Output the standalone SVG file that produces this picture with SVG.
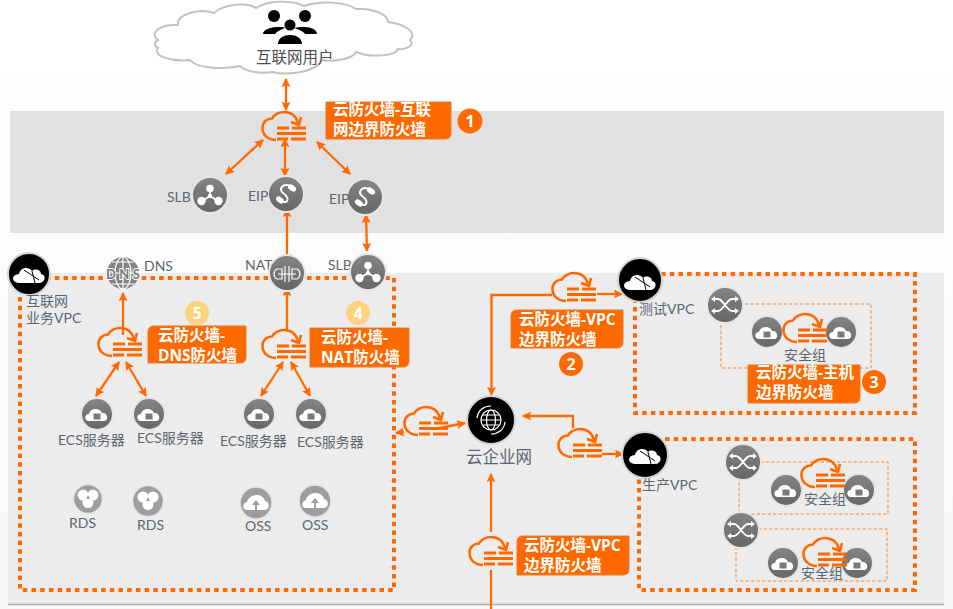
<svg xmlns="http://www.w3.org/2000/svg" width="953" height="609" viewBox="0 0 953 609">
<style>
text{font-family:"Lato","Noto Sans CJK SC",sans-serif;fill:#5c6670;font-size:14px}
.lb{font-family:"Open Sans","Noto Sans CJK SC",sans-serif;font-weight:700;font-size:15.5px;fill:#fff}
.box{fill:#ff6a00;stroke:#e8782a;stroke-width:1}
.num{font-family:"Open Sans",sans-serif;font-weight:700;font-size:16px;fill:#fff;text-anchor:middle}
.c{fill:none;stroke:#ff6a00;stroke-width:2.3}
.ca{marker-end:url(#ah)}
.cb{marker-start:url(#as);marker-end:url(#ah)}
.dot{fill:none;stroke:#ff6a00;stroke-width:4;stroke-dasharray:4.5 4.2}
.dash{fill:none;stroke:#f58a3c;stroke-width:1;stroke-dasharray:3.5 2}
.w{fill:#fff}
.wl{fill:none;stroke:#fff;stroke-width:1.800}
.thin{stroke-width:1.200}
.ring{fill:url(#gr);stroke:#e6e6e6;stroke-width:2}
.ringl{fill:#9e9e9e;stroke:#e4e4e4;stroke-width:1.500}
.ringb{fill:#000;stroke:#d4d4d4;stroke-width:2}
</style>
<defs>
<linearGradient id="bg" x1="0" y1="0" x2="0" y2="1"><stop offset="0" stop-color="#ffffff"/><stop offset="1" stop-color="#f8f8f8"/></linearGradient>
<linearGradient id="gr" x1="0" y1="0" x2="0" y2="1"><stop offset="0" stop-color="#858585"/><stop offset="1" stop-color="#666666"/></linearGradient>
<marker id="ah" markerUnits="userSpaceOnUse" markerWidth="10" markerHeight="10" refX="8" refY="4.500" orient="auto"><path d="M0 0L9 4.500L0 9L1.500 4.500Z" fill="#ff6a00"/></marker>
<marker id="as" markerUnits="userSpaceOnUse" markerWidth="10" markerHeight="10" refX="1" refY="4.500" orient="auto"><path d="M9 0L0 4.500L9 9L7.500 4.500Z" fill="#ff6a00"/></marker>
<g id="fw">
<path d="M14 28C6 28 0.500 23 0.500 16C0.500 10 5 6.500 10 6.500C12 2 18 0 22 0C29 0 34 4 36 11" fill="none" stroke="#ff6a00" stroke-width="2.600"/>
<path d="M29 10L37 13L39 5" fill="none" stroke="#ff6a00" stroke-width="2.600"/>
<path d="M15 16H27M30 16H44M15 21.500H44M15 27H26M29 27H44" fill="none" stroke="#ff6a00" stroke-width="3"/>
</g>
<g id="i-slb"><path class="wl" d="M0 -5V1M-8 6L0 1L8 6"/><circle class="w" cy="-6.500" r="3.800"/><circle class="w" cx="-8.500" cy="6" r="4.200"/><circle class="w" cx="8.500" cy="6" r="4.200"/><circle cx="0" cy="1" r="2.200" class="w"/></g>
<g id="i-eip"><path d="M4 -8C-3 -11 -8 -5 -3 -1C3 3 3 9 -3 8" fill="none" stroke="#fff" stroke-width="2"/><ellipse class="w" cx="6" cy="-6" rx="4.500" ry="2.800" transform="rotate(35 6 -6)"/><ellipse class="w" cx="-6" cy="6" rx="4.500" ry="2.800" transform="rotate(35 -6 6)"/></g>
<g id="i-nat"><path class="wl thin" d="M-5 -5H-10C-14 -3 -14 3 -10 5H-5ZM5 -5H10C14 -3 14 3 10 5H5ZM-2 -8V8M2 -8V8M-9 0H9"/></g>
<g id="i-ecs"><path class="w" d="M-8 6C-13 6 -13 -1 -8 -1C-7 -7 3 -8 5 -2C11 -3 12 6 7 6Z"/><rect x="-3.500" y="-1.500" width="7" height="6" fill="#7a7a7a"/></g>
<g id="i-rds"><circle class="w" cx="-5" cy="-3" r="5.500"/><circle class="w" cx="5" cy="-3" r="5.500"/><circle class="w" cy="4.500" r="5.500"/><path d="M0 -3L-2 1H2Z" fill="#9e9e9e"/></g>
<g id="i-oss"><path class="w" d="M-9 7C-14 7 -14 0 -9 -1C-7 -10 7 -10 9 -2C14 -2 14 7 9 7Z"/><path d="M0 -3L-4 2H-1V7H1V2H4Z" fill="#9e9e9e"/></g>
<g id="i-sw"><path class="wl" d="M-12 -6H-7C-2 -6 2 6 7 6H12M-12 6H-7C-2 6 2 -6 7 -6H12"/><path class="w" d="M10 -9L14 -6L10 -3ZM10 3L14 6L10 9ZM-10 -9L-14 -6L-10 -3ZM-10 3L-14 6L-10 9Z"/></g>
<g id="i-vpc"><path class="w" d="M-10 8C-18 8 -18 -1 -10 -1C-9 -8 0 -9 3 -4C6 -7 12 -5 12 -1C18 0 16 8 10 8Z"/><path d="M-5 -5L10 5M3 -4L6 8" stroke="#000" stroke-width="1" fill="none"/></g>
</defs>
<rect width="953" height="609" fill="url(#bg)"/>
<rect x="10" y="111" width="934" height="122" fill="#e1e1e1"/>
<rect x="8" y="273" width="936" height="331" fill="#ececec"/>
<path d="M8 604.500H944" stroke="#a8a8a8" stroke-width="1.500"/>
<path d="M20 278H394V590H20Z" class="dot"/>
<path d="M635 274H915V413H635Z" class="dot"/>
<path d="M639 439H915V590H639Z" class="dot"/>
<path d="M745 304H871V368H721V323" class="dash"/>
<path d="M760 462H888V514H739V480" class="dash"/>
<path d="M758 529H887V581H736V548" class="dash"/>

<g id="connectors">
<path class="c cb" d="M286 79V110"/>
<path class="c cb" d="M263 140L226 174"/>
<path class="c cb" d="M285 139V176"/>
<path class="c cb" d="M317 142L350 174"/>
<path class="c cb" d="M287 209V262"/>
<path class="c cb" d="M366 215L367 251"/>
<path class="c ca" d="M287 330V288"/>
<path class="c ca" d="M123 335V293"/>
<path class="c cb" d="M119 362L96 396"/>
<path class="c cb" d="M126 362L146 396"/>
<path class="c cb" d="M283 362L261 396"/>
<path class="c cb" d="M291 362L310 396"/>
<path class="c ca" d="M404 432L396 433"/>
<path class="c ca" d="M440 428L465 423"/>
<path class="c ca" d="M552 295H491.500V395"/>
<path class="c ca" d="M597 294L622 294"/>
<path class="c ca" d="M573 428V416H523"/>
<path class="c ca" d="M602 454H623"/>
<path class="c ca" d="M491 532V474"/>
<path class="c" d="M491 570V609"/>
</g>

<g id="internet-users">
<path d="M158 40C148 32 162 24 178 25C176 14 200 8 214 13C224 4 246 2 256 8C268 0 292 0 304 6C320 0 346 2 356 9C372 8 388 14 388 22C404 24 418 32 410 40C416 46 404 50 398 49C396 56 370 58 356 52C352 60 330 62 322 60C316 72 288 76 272 72C262 74 246 72 240 66C222 70 196 68 190 60C172 62 152 56 158 48C154 46 154 42 158 40Z" fill="#fff" stroke="#c2c2c2" stroke-width="2"/>
<g fill="#000">
<circle cx="274" cy="16" r="6"/><circle cx="305" cy="16" r="6"/><circle cx="290" cy="25" r="5.500"/>
<path d="M263 34C263 26 285 26 285 28C280 30 276 32 275 34ZM294 28C300 26 317 26 317 34H305C304 32 300 30 294 28ZM278 44C278 32 302 32 302 44Z"/>
</g>
<text x="256" y="63" style="font-size:15.500px;fill:#4d4d4d">互联网用户</text>
</g>

<g id="fw-internet"><use href="#fw" x="262" y="112"/></g>
<g id="label-internet"><path class="box" d="M326 102H451V133Q451 139 445 139H326Z"/><text class="lb"><tspan x="333" y="115">云防火墙-互联</tspan><tspan x="333" y="135">网边界防火墙</tspan></text><circle cx="470" cy="121" r="12.500" fill="#ff6a00"/><text class="num" x="470" y="127">1</text></g>

<g id="slb-top"><circle class="ring" cx="210" cy="195" r="18"/><use href="#i-slb" x="210" y="195"/><text x="167" y="202">SLB</text></g>
<g id="eip-1"><circle class="ring" cx="286" cy="194" r="18"/><use href="#i-eip" x="286" y="194"/><text x="248" y="201">EIP</text></g>
<g id="eip-2"><circle class="ring" cx="365" cy="197" r="18"/><use href="#i-eip" x="365" y="197"/><text x="329" y="204">EIP</text></g>

<g id="vpc-internet"><circle class="ringb" cx="29" cy="274" r="21"/><use href="#i-vpc" x="29" y="275"/><text><tspan x="26" y="306">互联网</tspan><tspan x="26" y="323">业务VPC</tspan></text></g>
<g id="dns"><circle cx="123" cy="273" r="16" fill="#858585"/><path class="wl thin" d="M107 273H139M123 257V289M112 262H134M112 284H134"/><ellipse cx="123" cy="273" rx="8" ry="16" class="wl thin"/><text x="106" y="279" style="font-size:13px;font-weight:700;fill:#777;stroke:#fff;stroke-width:2;paint-order:stroke" textLength="34">DNS</text><text x="144" y="271">DNS</text></g>
<g id="nat"><text x="245" y="270">NAT</text><circle class="ring" cx="287" cy="273" r="18"/><use href="#i-nat" x="287" y="274"/></g>
<g id="slb-vpc"><text x="328" y="270">SLB</text><circle class="ring" cx="368" cy="272" r="18"/><use href="#i-slb" x="368" y="272"/></g>

<g id="fw-dns"><use href="#fw" x="98" y="328"/></g>
<g id="label-dns"><path class="box" d="M148 332Q148 326 154 326H246V357Q246 363 240 363H148Z"/><text class="lb"><tspan x="158" y="341">云防火墙-</tspan><tspan x="158" y="361">DNS防火墙</tspan></text><circle cx="197" cy="313" r="12" fill="#fcd27e"/><text class="num" x="197" y="319">5</text></g>
<g id="fw-nat"><use href="#fw" x="262" y="330"/></g>
<g id="label-nat"><path class="box" d="M310 328H409V361Q409 367 403 367H310Z"/><text class="lb"><tspan x="321" y="343">云防火墙-</tspan><tspan x="321" y="363">NAT防火墙</tspan></text><circle cx="358" cy="313" r="12" fill="#fcd27e"/><text class="num" x="358" y="319">4</text></g>

<g id="ecs-1"><circle class="ring" cx="97" cy="414" r="16"/><use href="#i-ecs" x="97" y="415"/><text x="58" y="445">ECS服务器</text></g>
<g id="ecs-2"><circle class="ring" cx="149" cy="414" r="16"/><use href="#i-ecs" x="149" y="415"/><text x="137" y="443">ECS服务器</text></g>
<g id="ecs-3"><circle class="ring" cx="259" cy="414" r="16"/><use href="#i-ecs" x="259" y="415"/><text x="220" y="446">ECS服务器</text></g>
<g id="ecs-4"><circle class="ring" cx="311" cy="414" r="16"/><use href="#i-ecs" x="311" y="415"/><text x="297" y="447">ECS服务器</text></g>
<g id="rds-1"><circle class="ringl" cx="88" cy="499" r="14.500"/><use href="#i-rds" x="88" y="498"/><text x="69" y="528">RDS</text></g>
<g id="rds-2"><circle class="ringl" cx="148" cy="501" r="15.500"/><use href="#i-rds" x="148" y="500"/><text x="137" y="530">RDS</text></g>
<g id="oss-1"><circle class="ringl" cx="256" cy="503" r="16"/><use href="#i-oss" x="256" y="503"/><text x="245" y="531">OSS</text></g>
<g id="oss-2"><circle class="ringl" cx="315" cy="501" r="16"/><use href="#i-oss" x="315" y="501"/><text x="302" y="530">OSS</text></g>

<g id="fw-left"><use href="#fw" x="404" y="407"/></g>
<g id="cen"><circle class="ringb" cx="491" cy="420" r="24"/><circle cx="491" cy="420" r="10" class="wl thin"/><ellipse cx="491" cy="420" rx="4.500" ry="10" class="wl thin"/><path class="wl thin" d="M481 420H501M483 415H499M483 425H499"/><path class="wl thin" d="M477 418C478 410 484 406 491 406M505 422C504 430 498 434 491 434"/><text x="466" y="463" style="font-size:16.500px">云企业网</text></g>
<g id="fw-vpc-top"><use href="#fw" x="552" y="273"/></g>
<g id="label-vpc-top"><path class="box" d="M511 316Q511 310 517 310H623V342Q623 348 617 348H511Z"/><text class="lb"><tspan x="519" y="325">云防火墙-VPC</tspan><tspan x="519" y="345">边界防火墙</tspan></text><circle cx="571" cy="364" r="12" fill="#ff6a00"/><text class="num" x="571" y="370">2</text></g>
<g id="fw-right"><use href="#fw" x="558" y="429"/></g>
<g id="fw-bottom"><use href="#fw" x="469" y="537"/></g>
<g id="label-vpc-bottom"><path class="box" d="M517 542Q517 536 523 536H629V569Q629 575 623 575H517Z"/><text class="lb"><tspan x="524" y="551">云防火墙-VPC</tspan><tspan x="524" y="571">边界防火墙</tspan></text></g>

<g id="vpc-test"><circle class="ringb" cx="640" cy="280" r="22"/><use href="#i-vpc" x="640" y="282"/><text x="639" y="314">测试VPC</text></g>
<g id="switch-test"><circle class="ring" cx="725" cy="305" r="18"/><use href="#i-sw" x="725" y="305"/></g>
<g id="ecs-test-1"><circle class="ring" cx="767" cy="332" r="16"/><use href="#i-ecs" x="767" y="333"/></g>
<g id="ecs-test-2"><circle class="ring" cx="841" cy="332" r="16"/><use href="#i-ecs" x="841" y="333"/></g>
<g id="fw-host"><use href="#fw" x="783" y="314"/><text x="784" y="360">安全组</text></g>
<g id="label-host"><path class="box" d="M748 365H860V397Q860 403 854 403H748Z"/><text class="lb"><tspan x="756" y="378">云防火墙-主机</tspan><tspan x="756" y="398">边界防火墙</tspan></text><circle cx="874" cy="382" r="12" fill="#ff6a00"/><text class="num" x="874" y="388">3</text></g>

<g id="vpc-prod"><circle class="ringb" cx="645" cy="455" r="23"/><use href="#i-vpc" x="645" y="456"/><text x="642" y="490">生产VPC</text></g>
<g id="switch-prod-1"><circle class="ring" cx="743" cy="462" r="18"/><use href="#i-sw" x="743" y="462"/></g>
<g id="switch-prod-2"><circle class="ring" cx="741" cy="530" r="18"/><use href="#i-sw" x="741" y="530"/></g>
<g id="ecs-prod-1"><circle class="ring" cx="786" cy="490" r="16"/><use href="#i-ecs" x="786" y="491"/></g>
<g id="ecs-prod-2"><circle class="ring" cx="859" cy="490" r="16"/><use href="#i-ecs" x="859" y="491"/></g>
<g id="ecs-prod-3"><circle class="ring" cx="783" cy="563" r="16"/><use href="#i-ecs" x="783" y="564"/></g>
<g id="ecs-prod-4"><circle class="ring" cx="857" cy="563" r="16"/><use href="#i-ecs" x="857" y="564"/></g>
<g id="fw-prod-1"><use href="#fw" x="801" y="459"/><text x="804" y="504">安全组</text></g>
<g id="fw-prod-2"><use href="#fw" x="803" y="538"/><text x="801" y="578">安全组</text></g>
</svg>
